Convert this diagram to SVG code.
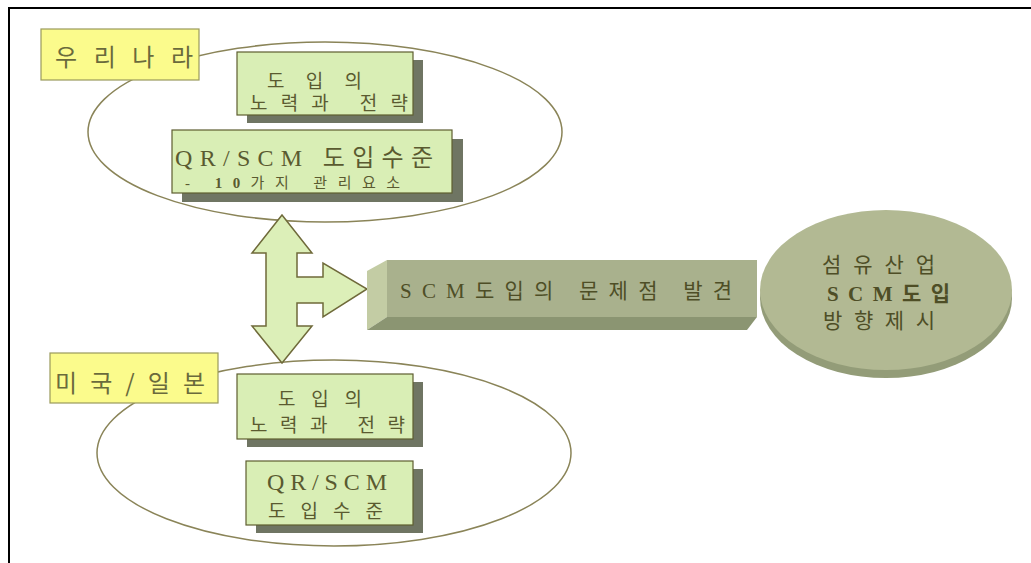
<svg xmlns="http://www.w3.org/2000/svg" width="1031" height="563" viewBox="0 0 1031 563">
  <defs>
    <style>
      .frame { stroke: #000; stroke-width: 2; fill: none; }
      .group-ellipse { fill: none; stroke: #8a8458; stroke-width: 1.5; }
      .label { fill: #fbfb8c; stroke: #9a9a5c; stroke-width: 1.2; }
      .label-text { font-family: "Noto Sans CJK KR", sans-serif; font-size: 24px; fill: #6a6a3c; }
      .card { fill: #d9eeb5; stroke: #5e5e30; stroke-width: 1.2; }
      .shadow { fill: #6f7563; }
      .card-text { font-family: "Liberation Serif", "Noto Sans CJK KR", serif; font-size: 19px; fill: #5a5a30; }
      .card-big { font-family: "Liberation Serif", "Noto Sans CJK KR", serif; font-size: 24px; fill: #5a5a30; }
      .card-small { font-family: "Liberation Serif", "Noto Sans CJK KR", serif; font-size: 15px; fill: #5a5a30; }
      .bar-front { fill: #a9b18d; }
      .bar-side { fill: #c3cca4; }
      .bar-bottom { fill: #8b9572; }
      .bar-text { font-family: "Liberation Serif", "Noto Sans CJK KR", serif; font-size: 21px; fill: #4e4e26; }
      .disc-top { fill: #b2b993; }
      .disc-rim { fill: #939c78; }
      .disc-text { font-family: "Liberation Serif", "Noto Sans CJK KR", serif; font-size: 21px; fill: #4e4e26; }
      .arrow { fill: #dcefb8; stroke: #6f6a3a; stroke-width: 1.5; stroke-linejoin: miter; }
    </style>
  </defs>

  <rect width="1031" height="563" fill="#fff"/>
  <!-- outer frame: top and left rules -->
  <path class="frame" d="M9,563 V8 H1031"/>

  <!-- domestic group -->
  <g id="korea">
    <ellipse class="group-ellipse" cx="325" cy="132" rx="237" ry="90"/>
    <rect class="label" x="41" y="29" width="158" height="51"/>
    <text class="label-text" x="55" y="66" textLength="138" lengthAdjust="spacing">우리나라</text>
    <g id="korea-effort">
      <rect class="shadow" x="247" y="60" width="176" height="63"/>
      <rect class="card" x="237" y="52" width="176" height="63"/>
      <text class="card-text" x="267" y="88" textLength="95" lengthAdjust="spacing">도입의</text>
      <text class="card-text" x="250" y="110" textLength="158" lengthAdjust="spacing">노력과 전략</text>
    </g>
    <g id="korea-level">
      <rect class="shadow" x="182" y="139" width="281" height="63"/>
      <rect class="card" x="172" y="130" width="280" height="63"/>
      <text class="card-big" x="175" y="166" textLength="258" lengthAdjust="spacing">QR/SCM 도입수준</text>
      <text class="card-small" x="185" y="188" textLength="215" lengthAdjust="spacing">- <tspan font-weight="bold">10</tspan>가지 관리요소</text>
    </g>
  </g>

  <!-- overseas group -->
  <g id="us-japan">
    <ellipse class="group-ellipse" cx="334" cy="453" rx="237" ry="93"/>
    <rect class="label" x="50" y="353" width="168" height="50"/>
    <text class="label-text" x="55" y="392" textLength="150" lengthAdjust="spacing">미국/일본</text>
    <g id="us-japan-effort">
      <rect class="shadow" x="247" y="382" width="176" height="65"/>
      <rect class="card" x="237" y="374" width="176" height="65"/>
      <text class="card-text" x="278" y="406" textLength="84" lengthAdjust="spacing">도입의</text>
      <text class="card-text" x="250" y="432" textLength="155" lengthAdjust="spacing">노력과 전략</text>
    </g>
    <g id="us-japan-level">
      <rect class="shadow" x="256" y="469" width="167" height="64"/>
      <rect class="card" x="246" y="461" width="167" height="64"/>
      <text class="card-big" x="267" y="490" textLength="120" lengthAdjust="spacing">QR/SCM</text>
      <text class="card-text" x="268" y="518" textLength="115" lengthAdjust="spacing">도입수준</text>
    </g>
  </g>

  <!-- comparison arrow -->
  <g id="connectors">
    <polygon class="arrow" points="282,215 312,253 297,253 297,277 323,277 323,263 367,289 323,317 323,303 297,303 297,326 312,326 282,363 252,326 266,326 266,253 252,253"/>
  </g>

  <!-- problem discovery bar -->
  <g id="problem">
    <polygon class="bar-side" points="367,271 387,260 387,317 367,330"/>
    <polygon class="bar-bottom" points="387,317 757,317 747,330 367,330"/>
    <rect class="bar-front" x="387" y="260" width="370" height="57"/>
    <text class="bar-text" x="400" y="298" textLength="332" lengthAdjust="spacing">SCM도입의 문제점 발견</text>
  </g>

  <!-- direction disc -->
  <g id="direction">
    <ellipse class="disc-rim" cx="886" cy="298" rx="126" ry="80"/>
    <ellipse class="disc-top" cx="886" cy="290" rx="126" ry="80"/>
    <text class="disc-text" x="822" y="272" textLength="113" lengthAdjust="spacing">섬유산업</text>
    <text class="disc-text" x="827" y="301" textLength="123" lengthAdjust="spacing" font-weight="bold">SCM도입</text>
    <text class="disc-text" x="823" y="328" textLength="112" lengthAdjust="spacing">방향제시</text>
  </g>
</svg>
